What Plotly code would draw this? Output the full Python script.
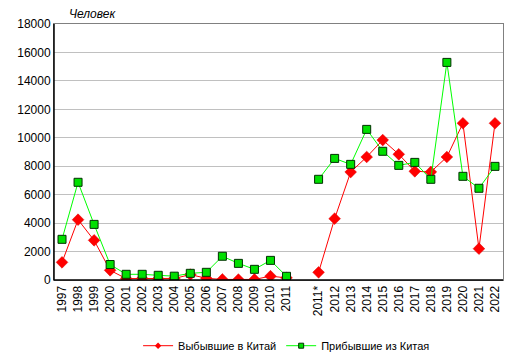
import plotly.graph_objects as go

categories = ["1997", "1998", "1999", "2000", "2001", "2002", "2003", "2004", "2005",
              "2006", "2007", "2008", "2009", "2010", "2011", " ",
              "2011*", "2012", "2013", "2014", "2015", "2016", "2017", "2018",
              "2019", "2020", "2021", "2022"]

departed = [1240, 4240, 2790, 680, 100, 110, 90, 110, 380,
            120, 40, 30, 40, 270, 150, None,
            540, 4310, 7590, 8650, 9840, 8840, 7640, 7600,
            8650, 11020, 2200, 11020]

arrived = [2860, 6870, 3910, 1090, 400, 400, 330, 270, 470,
           540, 1670, 1170, 750, 1380, 260, None,
           7080, 8550, 8130, 10590, 9050, 8060, 8270, 7080,
           15300, 7290, 6450, 7990]

y_ticks = [0, 2000, 4000, 6000, 8000, 10000, 12000, 14000, 16000, 18000]
y_tick_labels = [str(v) for v in y_ticks]

series_names = ["Выбывшие в Китай", "Прибывшие из Китая"]
y_unit = "Человек"

font_family = "Liberation Sans, Arial, sans-serif"

fig = go.Figure()
fig.add_trace(go.Scatter(
    x=categories, y=departed, name=series_names[0], mode="lines+markers",
    line=dict(color="#FF0000", width=1),
    marker=dict(symbol="diamond", size=9, color="#FF0000",
                line=dict(color="#E00000", width=0.5)),
    connectgaps=False, showlegend=False,
))
fig.add_trace(go.Scatter(
    x=categories, y=arrived, name=series_names[1], mode="lines+markers",
    line=dict(color="#00FF00", width=1),
    marker=dict(symbol="square", size=8, color="#00E000",
                line=dict(color="#003000", width=1)),
    connectgaps=False, showlegend=False,
))
# legend entries with small markers, as in the reference
fig.add_trace(go.Scatter(
    x=[None], y=[None], name=series_names[0], mode="lines+markers",
    line=dict(color="#FF0000", width=1),
    marker=dict(symbol="diamond", size=5, color="#FF0000"),
))
fig.add_trace(go.Scatter(
    x=[None], y=[None], name=series_names[1], mode="lines+markers",
    line=dict(color="#00FF00", width=1),
    marker=dict(symbol="square", size=5, color="#00E000",
                line=dict(color="#003000", width=1)),
))

# the page body has an 8px default margin, so the figure is 8px smaller
fig.update_layout(
    width=508, height=350,
    margin=dict(l=46, r=13, t=16, b=78, autoexpand=False),
    paper_bgcolor="white", plot_bgcolor="white",
    font=dict(family=font_family, size=12, color="black"),
    showlegend=True,
    legend=dict(orientation="h", x=0.518, xanchor="center", y=-0.2, yanchor="top",
                font=dict(size=11), itemwidth=30, tracegroupgap=0,
                bgcolor="rgba(0,0,0,0)"),
    annotations=[dict(text="<i>" + y_unit + "</i>", xref="paper", yref="paper",
                      x=13 / 449, y=1 + 10 / 256, xanchor="left",
                      yanchor="middle", showarrow=False, font=dict(size=12))],
)

fig.update_xaxes(
    type="category", categoryorder="array", categoryarray=categories,
    tickangle=-90, tickfont=dict(size=12), showgrid=False, automargin=False,
    showline=True, linecolor="#808080", linewidth=1, mirror=True,
    ticks="", range=[-0.5, len(categories) - 0.5],
)
fig.update_yaxes(
    range=[0, 18000], tickvals=y_ticks, ticktext=y_tick_labels,
    tickfont=dict(size=12), automargin=False,
    showgrid=True, gridcolor="#C0C0C0", gridwidth=1,
    showline=True, linecolor="#808080", linewidth=1, mirror=True,
    zeroline=False, ticks="",
)
# black left and bottom axis lines
fig.add_shape(type="line", xref="paper", yref="paper", x0=0, x1=0, y0=0, y1=1,
              line=dict(color="black", width=1.5))
fig.add_shape(type="line", xref="paper", yref="paper", x0=0, x1=1, y0=0, y1=0,
              line=dict(color="black", width=1.5))

fig.write_html("out.html")
